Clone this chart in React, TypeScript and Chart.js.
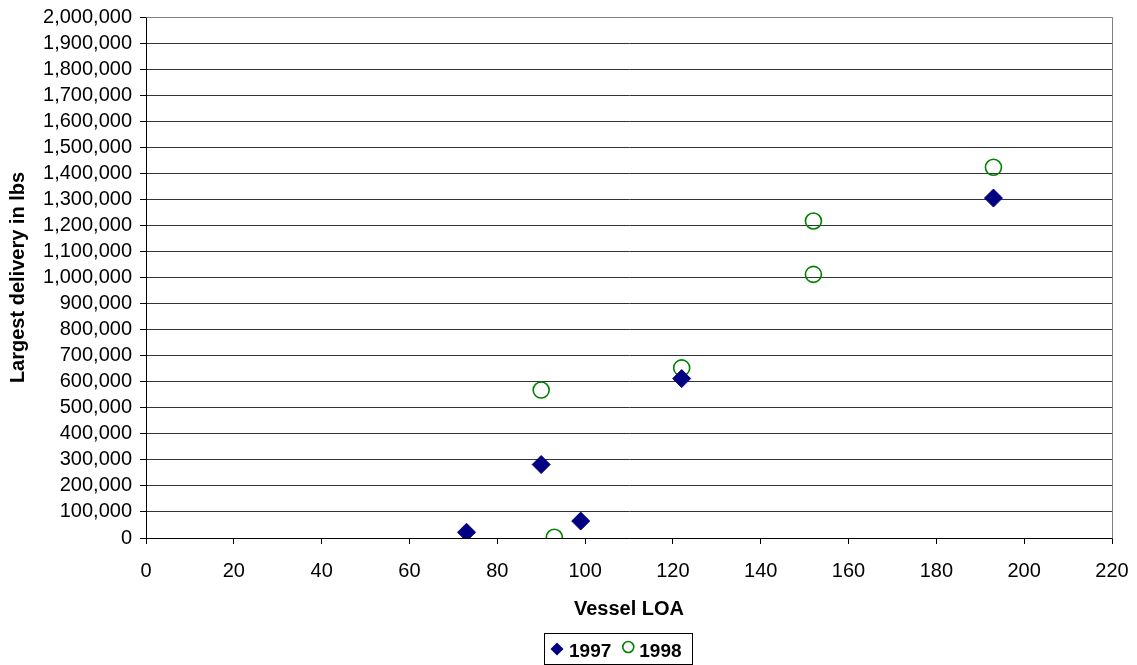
import React, { useEffect, useRef } from "react";
import { Chart, registerables } from "chart.js";

Chart.register(...registerables);

const seriesNames = ["1997", "1998"];
const loa1997 = [73, 90, 99, 122, 193];
const delivery1997 = [22000, 282000, 65000, 612000, 1305000];
const loa1998 = [90, 93, 122, 152, 152, 193];
const delivery1998 = [568000, 3000, 653000, 1012000, 1217000, 1423000];

const xTitle = "Vessel LOA";
const yTitle = "Largest delivery in lbs";

const FONT = "'Liberation Sans', Arial, sans-serif";

const frameAndLegend = {
  id: "frameAndLegend",
  afterDraw(chart: any) {
    const ctx = chart.ctx;
    const a = chart.chartArea;
    ctx.save();
    ctx.strokeStyle = "#808080";
    ctx.lineWidth = 1;
    ctx.beginPath();
    ctx.moveTo(Math.round(a.left) + 0.5, Math.round(a.top) + 0.5);
    ctx.lineTo(Math.round(a.right) + 0.5, Math.round(a.top) + 0.5);
    ctx.lineTo(Math.round(a.right) + 0.5, Math.round(a.bottom) + 0.5);
    ctx.stroke();

    const boxLeft = 544.5, boxRight = 692.5, boxTop = 633.5, boxBottom = 664.5;
    ctx.strokeStyle = "#000";
    ctx.strokeRect(boxLeft, boxTop, boxRight - boxLeft, boxBottom - boxTop);
    const cy = 651;
    ctx.font = `bold 19px ${FONT}`;
    ctx.fillStyle = "#000";
    ctx.textBaseline = "middle";
    ctx.textAlign = "left";
    let x = 557;
    chart.data.datasets.forEach((ds: any) => {
      ctx.beginPath();
      if (ds.pointStyle === "rectRot") {
        const r = 6.5;
        ctx.moveTo(x, cy - 2 - r);
        ctx.lineTo(x + r, cy - 2);
        ctx.lineTo(x, cy - 2 + r);
        ctx.lineTo(x - r, cy - 2);
        ctx.closePath();
        ctx.fillStyle = ds.pointBackgroundColor;
        ctx.fill();
      } else {
        ctx.arc(x + 1, cy - 4, 5.5, 0, Math.PI * 2);
        ctx.strokeStyle = ds.pointBorderColor;
        ctx.lineWidth = 1.6;
        ctx.stroke();
      }
      ctx.fillStyle = "#000";
      ctx.fillText(ds.label, x + 12, cy + 1);
      const w = ctx.measureText(ds.label).width;
      x = x + 12 + w + 16;
    });
    ctx.restore();
  },
};

export default function App() {
  const ref = useRef<HTMLCanvasElement>(null);
  useEffect(() => {
    const chart = new Chart(ref.current as HTMLCanvasElement, {
      type: "scatter",
      data: {
        datasets: [
          {
            label: seriesNames[0],
            data: loa1997.map((x, i) => ({ x, y: delivery1997[i] })),
            pointStyle: "rectRot",
            pointRadius: 9,
            pointHoverRadius: 9,
            pointBackgroundColor: "#000080",
            pointBorderColor: "#000080",
            pointBorderWidth: 1,
          },
          {
            label: seriesNames[1],
            data: loa1998.map((x, i) => ({ x, y: delivery1998[i] })),
            pointStyle: "circle",
            pointRadius: 8,
            pointHoverRadius: 8,
            pointBackgroundColor: "rgba(0,0,0,0)",
            pointBorderColor: "#008000",
            pointBorderWidth: 1.6,
          },
        ],
      },
      options: {
        responsive: false,
        animation: false,
        layout: { padding: { left: 0, top: 17, right: 25, bottom: 37 } },
        plugins: { legend: { display: false }, tooltip: { enabled: false } },
        scales: {
          x: {
            type: "linear",
            min: 0,
            max: 220,
            afterFit: (s: any) => {
              s.height = 90;
              s.paddingRight = 0;
              s.paddingLeft = 0;
            },
            ticks: {
              stepSize: 20,
              autoSkip: false,
              color: "#000",
              padding: 15,
              maxRotation: 0,
              font: { family: FONT, size: 20 },
            },
            grid: {
              drawOnChartArea: false,
              drawTicks: true,
              tickLength: 6,
              color: "#000",
            },
            border: { color: "#000", width: 1 },
            title: {
              display: true,
              text: xTitle,
              color: "#000",
              font: { family: FONT, size: 20, weight: "bold" },
              padding: { top: 0, bottom: 7 },
            },
          },
          y: {
            type: "linear",
            min: 0,
            max: 2000000,
            afterFit: (s: any) => {
              s.width = 146;
              s.paddingTop = 0;
              s.paddingBottom = 0;
            },
            ticks: {
              stepSize: 100000,
              autoSkip: false,
              color: "#000",
              padding: 8,
              font: { family: FONT, size: 20 },
              callback: (v: any) => Number(v).toLocaleString("en-US"),
            },
            grid: {
              drawTicks: true,
              tickLength: 6,
              color: (c: any) => (c.index === 20 ? "#808080" : "#333"),
              tickColor: "#000",
            },
            border: { color: "#000", width: 1 },
            title: {
              display: true,
              text: yTitle,
              color: "#000",
              font: { family: FONT, size: 20, weight: "bold" },
              padding: { top: 6, bottom: 0 },
            },
          },
        },
      },
      plugins: [frameAndLegend],
    });
    return () => chart.destroy();
  }, []);
  return (
    <div style={{ position: "absolute", left: 0, top: 0, width: 1137, height: 665, background: "#fff" }}>
      <canvas ref={ref} width={1137} height={665} />
    </div>
  );
}
